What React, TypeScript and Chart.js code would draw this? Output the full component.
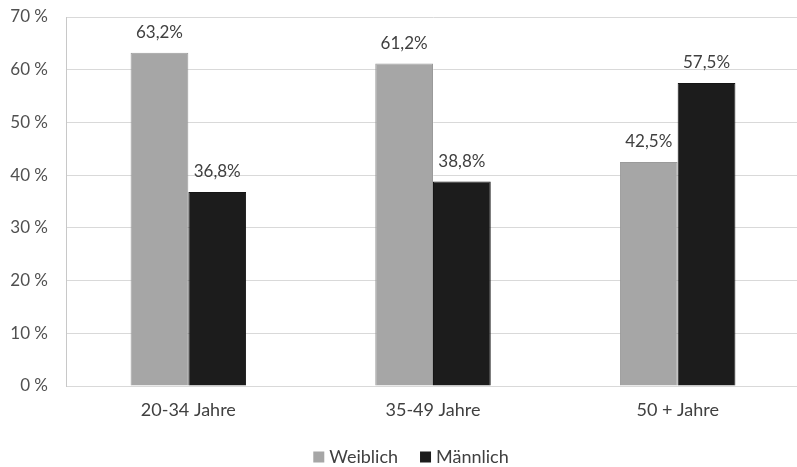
import React, { useEffect, useRef } from "react";
import { Chart, registerables } from "chart.js";

Chart.register(...registerables);

const categories = ["20-34 Jahre", "35-49 Jahre", "50 + Jahre"];
const seriesNames = ["Weiblich", "Männlich"];
const weiblich = [63.2, 61.2, 42.5];
const maennlich = [36.8, 38.8, 57.5];
const seriesColors = ["#a6a6a6", "#1c1c1c"];
const yTicks = [0, 10, 20, 30, 40, 50, 60, 70];

const FONT = "Lato, 'Open Sans', sans-serif";

const fmt = (v: number) => v.toFixed(1).replace(".", ",") + "%";

const valueLabels = {
  id: "valueLabels",
  afterDatasetsDraw(chart: any) {
    const ctx = chart.ctx;
    ctx.save();
    ctx.font = `17px ${FONT}`;
    ctx.fillStyle = "#404040";
    ctx.textAlign = "center";
    ctx.textBaseline = "middle";
    chart.data.datasets.forEach((ds: any, i: number) => {
      const meta = chart.getDatasetMeta(i);
      meta.data.forEach((bar: any, j: number) => {
        ctx.fillText(fmt(ds.data[j]), bar.x, bar.y - 20);
      });
    });
    ctx.restore();
  },
};

const bottomLegend = {
  id: "bottomLegend",
  afterDraw(chart: any) {
    const ctx = chart.ctx;
    ctx.save();
    ctx.font = `18px ${FONT}`;
    ctx.textBaseline = "middle";
    const box = 11;
    const gap = 5;
    const spacing = 22;
    const widths = seriesNames.map((n) => box + gap + ctx.measureText(n).width);
    const total = widths.reduce((a, b) => a + b, 0) + spacing * (seriesNames.length - 1);
    let x = 411 - total / 2;
    const y = 457;
    seriesNames.forEach((name, i) => {
      ctx.fillStyle = seriesColors[i];
      ctx.fillRect(x, y - box / 2, box, box);
      ctx.fillStyle = "#404040";
      ctx.textAlign = "left";
      ctx.fillText(name, x + box + gap, y);
      x += widths[i] + spacing;
    });
    ctx.restore();
  },
};

export default function App() {
  const ref = useRef<HTMLCanvasElement>(null);

  useEffect(() => {
    if (!ref.current) return;
    const chart = new Chart(ref.current, {
      type: "bar",
      data: {
        labels: categories,
        datasets: [
          {
            label: seriesNames[0],
            data: weiblich,
            backgroundColor: seriesColors[0],
            borderColor: "#9a9a9a",
            borderWidth: 1,
          },
          {
            label: seriesNames[1],
            data: maennlich,
            backgroundColor: seriesColors[1],
            borderColor: "#151515",
            borderWidth: 1,
          },
        ],
      },
      options: {
        responsive: false,
        animation: false,
        layout: { padding: { top: 17, right: 0, bottom: 0, left: 0 } },
        plugins: {
          legend: { display: false },
          tooltip: { enabled: false },
        },
        datasets: {
          bar: { categoryPercentage: 0.472, barPercentage: 1 },
        },
        scales: {
          x: {
            grid: { display: false, drawTicks: false },
            border: { display: true, color: "#d9d9d9" },
            ticks: {
              color: "#404040",
              font: { family: FONT, size: 18 },
              padding: 13,
            },
            afterFit(scale: any) {
              scale.height = 81;
            },
          },
          y: {
            min: 0,
            max: 70,
            afterBuildTicks(scale: any) {
              scale.ticks = yTicks.map((v) => ({ value: v }));
            },
            grid: { color: "#d9d9d9", drawTicks: false },
            border: { display: true, color: "#c8c8c8" },
            ticks: {
              color: "#505050",
              font: { family: FONT, size: 17 },
              padding: 18,
              callback: (v: any) => `${v} %`,
            },
            afterFit(scale: any) {
              scale.width = 66;
              scale.paddingTop = 0;
              scale.paddingBottom = 0;
            },
          },
        },
      },
      plugins: [valueLabels, bottomLegend],
    });
    return () => chart.destroy();
  }, []);

  return (
    <div
      style={{
        position: "fixed",
        left: 0,
        top: 0,
        width: 797,
        height: 467,
        overflow: "hidden",
        background: "#ffffff",
      }}
    >
      <canvas ref={ref} width={800} height={467} />
    </div>
  );
}
